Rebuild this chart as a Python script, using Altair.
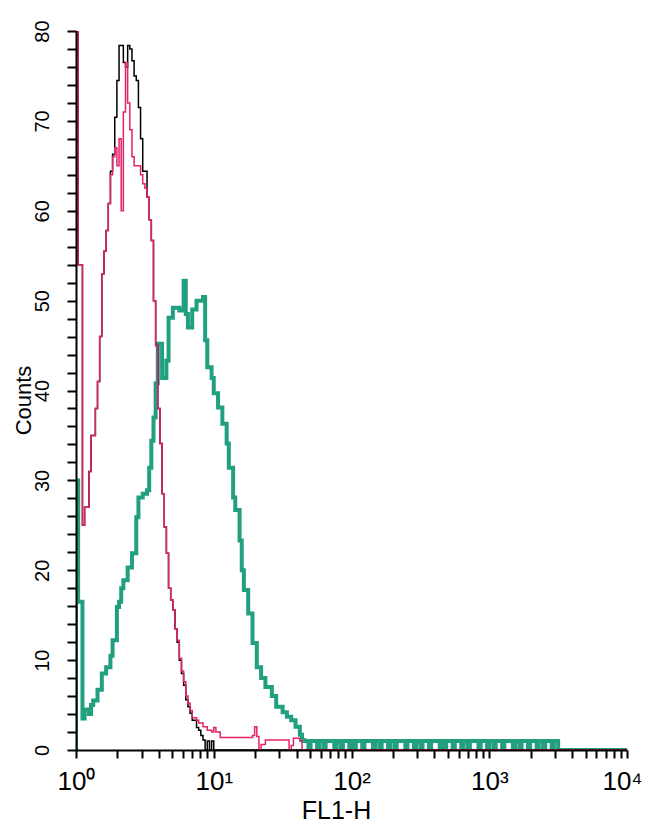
import json
import altair as alt
import pandas as pd

# 256 channels over 4 decades -> channel c sits at FL1 = 10**(c/64)
CHANNELS_PER_DECADE = 64

# ---- control (black) ----
black_ch = [0, 0, 1, 3, 4, 6, 7, 9, 10, 11, 12, 13, 14, 15, 16, 17, 18, 19, 20, 21, 22, 23, 24, 25, 26, 27,
            28, 29, 30, 31, 33, 34, 35, 36, 37, 38, 39, 40, 41, 42, 43, 44, 45, 46, 47, 48, 49, 50, 51, 52,
            53, 54, 56, 57, 58, 59, 60, 61, 62, 63, 64, 256]
black_counts = [0, 80, 54, 25, 27, 31, 35, 38, 41, 46, 53, 55.5, 57.8, 60.8, 64.4, 66.3, 70.4, 74.5, 78.4, 78.4,
                76.5, 76, 78.4, 78, 76.7, 75, 74.5, 71.5, 68, 64.4, 61.5, 59, 56.7, 50, 45, 38, 34.1, 28.5,
                24.8, 21.9, 18, 16.7, 15.6, 13.5, 12, 10, 8.5, 7.2, 5.6, 4.8, 4.1, 3.3, 2.5, 2.2, 1.6, 1.1,
                0, 1, 0, 1, 0, 0]

# ---- isotype (magenta) ----
magenta_ch = [0, 0, 1, 3, 4, 6, 7, 9, 10, 11, 12, 13, 14, 15, 16, 17, 18, 19, 20, 21, 22, 23, 24, 25, 26, 27,
              29, 30, 31, 32, 33, 34, 35, 36, 37, 38, 39, 40, 41, 42, 43, 44, 45, 46, 47, 48, 49, 50, 51, 52,
              53, 54, 56, 57, 59, 61, 63, 64, 65, 67, 82, 83, 84, 85, 86, 88, 98, 99, 100, 101, 104, 105, 256]
magenta_counts = [0, 80, 54, 25, 27, 31, 35, 38, 41, 46, 53, 55.5, 57.8, 60.8, 64, 66, 67, 65, 68, 60, 71, 76.5,
                  72, 69, 66, 65, 65, 64, 63, 62.5, 61.5, 59, 56.7, 50, 45, 38, 34.1, 28.5, 24.8, 21.9, 18,
                  16.7, 15.6, 13.5, 12.2, 10.2, 8.8, 7.6, 6, 5.2, 4.4, 3.6, 3.3, 3.0, 2.6, 2.2, 2.0, 2.5, 2.0,
                  1.4, 1.6, 2.6, 1.5, 0, 0.6, 1.1, 1.1, 0, 0.5, 1.3, 1.0, 0, 0]

# ---- stained (teal) ----
teal_ch = [0, 0, 1, 3, 4, 6, 7, 8, 10, 12, 14, 16, 17, 19, 20, 21, 22, 24, 26, 28, 29, 31, 33, 34, 35, 36, 37,
           38, 40, 42, 43, 45, 48, 50, 51, 52, 54, 56, 59, 60, 61, 63, 64, 66, 68, 70, 71, 73, 74, 76, 77, 78,
           80, 82, 84, 86, 88, 91, 93, 96, 98, 100, 102, 104, 105]
teal_counts = [0, 30, 16.5, 3.5, 4.5, 4.0, 5.0, 5.5, 6.7, 8.5, 9.2, 10.5, 12.2, 15.9, 16.5, 18, 18.9, 20.3, 21.9,
               25.9, 28.1, 28.5, 28.9, 31.4, 34.4, 37, 40.8, 45.2, 41.4, 43.3, 48.1, 49.2, 48.9, 52.2, 48.5, 47,
               49, 50, 50.4, 45.6, 42.6, 41.4, 39.7, 38.1, 36.3, 34.1, 31.4, 28.1, 26.7, 23.3, 20, 17.8, 15.2,
               11.9, 9.2, 8, 7, 6, 4.8, 4.2, 3.7, 3.3, 2.6, 1.7, 1.1]
# low-level tail, channels 106..223, one value per channel
teal_tail_start = 106
teal_tail = [1, 1, 0, 1, 1, 1, 0, 1, 1, 0,
             1, 1, 1, 1, 0, 1, 1, 0, 1, 1,
             1, 0, 1, 0, 1, 1, 1, 0, 1, 1,
             1, 1, 0, 1, 1, 0, 1, 1, 1, 0,
             1, 1, 0, 1, 1, 1, 1, 0, 1, 1,
             1, 0, 1, 1, 0, 1, 1, 1, 0, 1,
             1, 1, 1, 0, 1, 0, 1, 1, 1, 0,
             1, 1, 1, 0, 1, 1, 0, 1, 1, 1,
             1, 0, 1, 1, 1, 0, 1, 1, 0, 1,
             1, 1, 0, 1, 1, 1, 1, 0, 1, 1,
             0, 1, 1, 1, 0, 1, 1, 1, 0, 1,
             1, 0, 1, 1, 1, 0, 1, 1]
teal_end_ch = [224, 256]
teal_end_counts = [0, 0]

x_tick_labels = ["10⁰", "10¹", "10²", "10³", "10⁴"]
y_tick_values = list(range(0, 81, 2))
x_tick_values = [m * 10 ** e for e in range(4) for m in range(1, 10)] + [10000]

teal_all_ch = teal_ch + [teal_tail_start + i for i in range(len(teal_tail))] + teal_end_ch
teal_all_counts = teal_counts + teal_tail + teal_end_counts


def frame(chs, counts):
    return pd.DataFrame({
        "fl1": [10 ** (c / CHANNELS_PER_DECADE) for c in chs],
        "count": counts,
        "idx": list(range(len(chs))),
    })


FONT = "Liberation Sans"
decade_test = "abs(log(datum.value)/LN10 - round(log(datum.value)/LN10)) < 0.001"
label_list = json.dumps(x_tick_labels, ensure_ascii=False)

x_axis = alt.Axis(
    values=x_tick_values,
    labelExpr=f"{decade_test} ? {label_list}[round(log(datum.value)/LN10)] : ''",
    ticks=True, tickSize=8,
    tickWidth=2, tickColor="black", domainColor="black", domainWidth=2,
    labelFont=FONT, labelFontSize=26, labelColor="black", labelFlush=False,
    labelOverlap=False, labelPadding=10,
    labelOffset={"condition": {"test": "datum.value >= 9999", "value": -5}, "value": 0},
    title="FL1-H", titleFont=FONT, titleFontSize=25, titleFontWeight="normal",
    titleColor="black", titleX=260, titleY=68, titleBaseline="alphabetic",
    grid=False, zindex=1,
)

y_axis = alt.Axis(
    values=y_tick_values,
    labelExpr="datum.value % 10 == 0 ? datum.label : ''",
    ticks=True, tickSize=9,
    tickWidth=2, tickColor="black", domainColor="black", domainWidth=2,
    labelFont=FONT, labelFontSize=20, labelColor="black", labelAngle=270,
    labelAlign="center", labelBaseline="alphabetic", labelPadding=19,
    labelFlush=False, labelOverlap=False,
    title="Counts", titleFont=FONT, titleFontSize=22, titleFontWeight="normal",
    titleColor="black", titleAngle=270, titleX=-46, titleY=369,
    titleBaseline="alphabetic", titleAlign="center",
    grid=False, zindex=1,
)

x_enc = alt.X("fl1:Q", scale=alt.Scale(type="log", domain=[1, 10000], nice=False), axis=x_axis)
y_enc = alt.Y("count:Q", scale=alt.Scale(domain=[0, 80], nice=False), axis=y_axis)


def layer(df, color, width):
    return alt.Chart(df).mark_line(interpolate="step-after", color=color, strokeWidth=width,
                                   clip=True).encode(x=x_enc, y=y_enc, order="idx:Q")


chart = alt.layer(
    layer(frame(teal_all_ch, teal_all_counts), "#21a07f", 4),
    layer(frame(black_ch, black_counts), "#000000", 1.5),
    layer(frame(magenta_ch, magenta_counts), "#e2226a", 1.5),
).properties(
    width=551, height=719,
    autosize=alt.AutoSizeParams(type="none"),
    padding={"left": 68, "top": 23, "right": 15, "bottom": 74},
).configure_view(stroke=None)

chart.save("out.html", embed_options={"renderer": "svg", "actions": False})
